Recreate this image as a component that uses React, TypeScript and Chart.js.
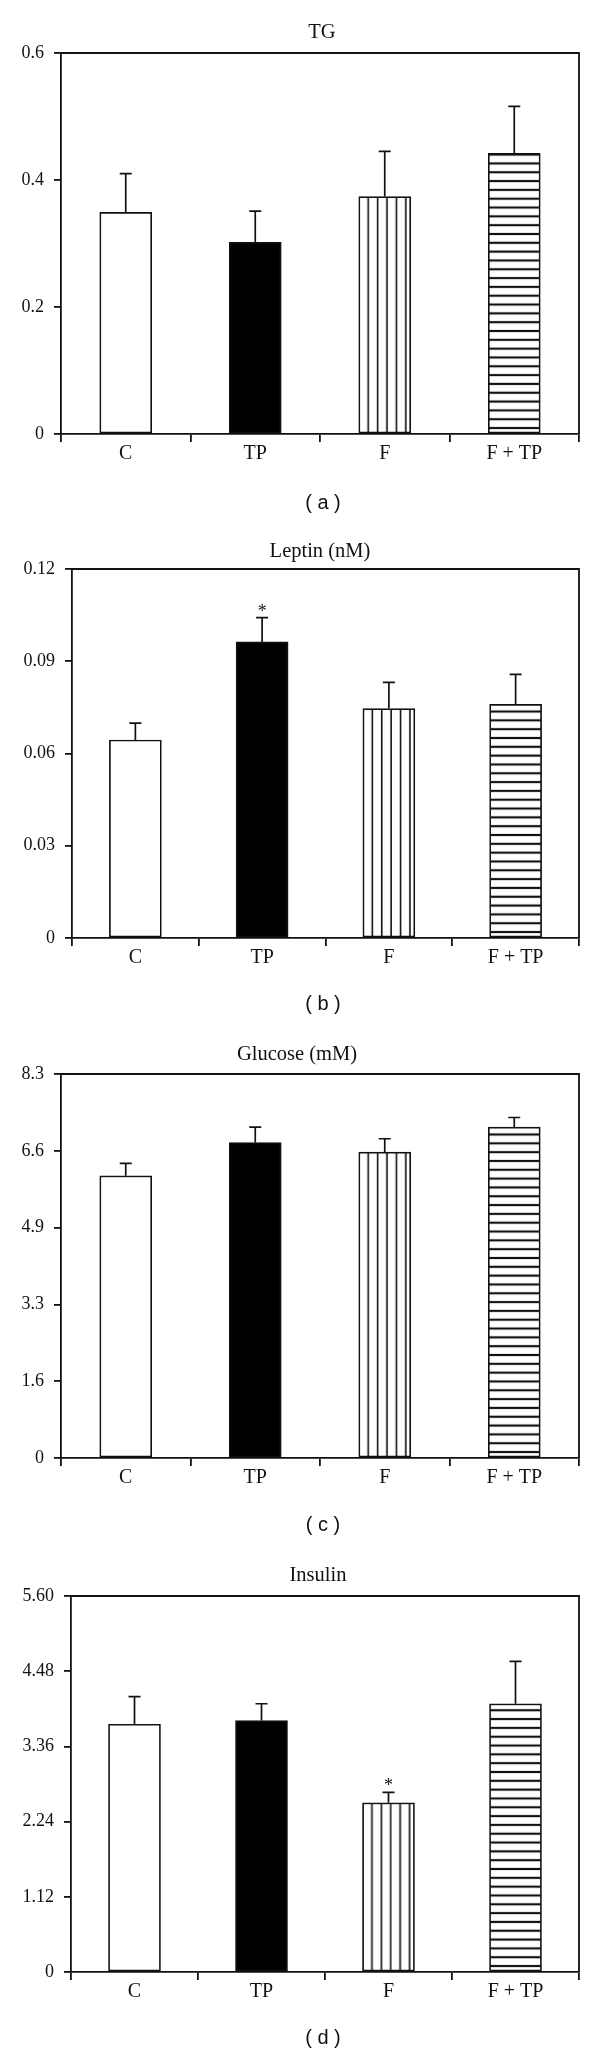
import React, { useEffect, useRef } from "react";
import { Chart, registerables } from "chart.js";

Chart.register(...registerables);

// ---------- data ----------
const categories = ["C", "TP", "F", "F + TP"];

const tgMeans = [0.349, 0.302, 0.374, 0.442];
const tgErrors = [0.061, 0.049, 0.071, 0.074];
const tgTicks = ["0", "0.2", "0.4", "0.6"];
const tgStars = [false, false, false, false];

const leptinMeans = [0.0644, 0.0963, 0.0746, 0.076];
const leptinErrors = [0.0055, 0.0079, 0.0085, 0.0097];
const leptinTicks = ["0", "0.03", "0.06", "0.09", "0.12"];
const leptinStars = [false, true, false, false];

const glucoseMeans = [6.1, 6.82, 6.61, 7.15];
const glucoseErrors = [0.27, 0.33, 0.29, 0.21];
const glucoseTicks = ["0", "1.6", "3.3", "4.9", "6.6", "8.3"];
const glucoseStars = [false, false, false, false];

const insulinMeans = [3.69, 3.745, 2.52, 3.995];
const insulinErrors = [0.41, 0.25, 0.155, 0.63];
const insulinTicks = ["0", "1.12", "2.24", "3.36", "4.48", "5.60"];
const insulinStars = [false, false, true, false];

// ---------- layout ----------
type Panel = {
  title: string;
  label: string;
  means: number[];
  errors: number[];
  ticks: string[];
  stars: boolean[];
  top: number;
  height: number;
  plotTop: number;
  plotLeft: number;
  plotBottom: number;
  titleX: number;
  titleY: number;
  labelY: number;
};

const PANELS: Panel[] = [
  { title: "TG", label: "( a )", means: tgMeans, errors: tgErrors, ticks: tgTicks, stars: tgStars,
    top: 0, height: 528, plotTop: 53, plotLeft: 61, plotBottom: 434, titleX: 322, titleY: 31, labelY: 502 },
  { title: "Leptin (nM)", label: "( b )", means: leptinMeans, errors: leptinErrors, ticks: leptinTicks, stars: leptinStars,
    top: 528, height: 502, plotTop: 41, plotLeft: 72, plotBottom: 410, titleX: 320, titleY: 550, labelY: 1003 },
  { title: "Glucose (mM)", label: "( c )", means: glucoseMeans, errors: glucoseErrors, ticks: glucoseTicks, stars: glucoseStars,
    top: 1030, height: 520, plotTop: 44, plotLeft: 61, plotBottom: 428, titleX: 297, titleY: 1053, labelY: 1524 },
  { title: "Insulin", label: "( d )", means: insulinMeans, errors: insulinErrors, ticks: insulinTicks, stars: insulinStars,
    top: 1550, height: 504, plotTop: 46, plotLeft: 71, plotBottom: 422, titleX: 318, titleY: 1574, labelY: 2037 },
];

const INK = "#111";
const SERIF = "'Liberation Serif', 'Times New Roman', serif";
const SANS = "'Liberation Sans', Arial, sans-serif";

function makeVerticalPattern(ctx: CanvasRenderingContext2D) {
  const c = document.createElement("canvas");
  c.width = 47;
  c.height = 8;
  const g = c.getContext("2d")!;
  g.fillStyle = "#fff";
  g.fillRect(0, 0, 47, 8);
  g.fillStyle = INK;
  [0, 9.4, 18.8, 28.2, 37.6].forEach((x) => g.fillRect(x - 0.8, 0, 1.6, 8));
  g.fillRect(47 - 0.8, 0, 1.6, 8);
  return ctx.createPattern(c, "repeat")!;
}

function makeHorizontalPattern(ctx: CanvasRenderingContext2D) {
  const c = document.createElement("canvas");
  c.width = 8;
  c.height = 9;
  const g = c.getContext("2d")!;
  g.fillStyle = "#fff";
  g.fillRect(0, 0, 8, 9);
  g.fillStyle = INK;
  g.fillRect(0, 0, 8, 1.1);
  g.fillRect(0, 7.9, 8, 1.1);
  return ctx.createPattern(c, "repeat")!;
}

function BarPanel({ p }: { p: Panel }) {
  const ref = useRef<HTMLCanvasElement>(null);

  useEffect(() => {
    const canvas = ref.current!;
    const ctx = canvas.getContext("2d")!;
    const vPat = makeVerticalPattern(ctx);
    const hPat = makeHorizontalPattern(ctx);
    const yMax = Number(p.ticks[p.ticks.length - 1]);

    const patternAlign = {
      id: "patternAlign",
      beforeDatasetsDraw(chart: any) {
        const meta = chart.getDatasetMeta(0);
        const fBar = meta.data[2];
        const left = fBar.x - fBar.width / 2;
        vPat.setTransform(new DOMMatrix([1, 0, 0, 1, left, 0]));
        const base = chart.scales.y.getPixelForValue(0);
        hPat.setTransform(new DOMMatrix([1, 0, 0, 0.98, 0, base - 6]));
      },
    };

    const errorBars = {
      id: "errorBars",
      afterDatasetsDraw(chart: any) {
        const meta = chart.getDatasetMeta(0);
        const y = chart.scales.y;
        const c = chart.ctx;
        c.save();
        c.strokeStyle = INK;
        c.lineWidth = 1.7;
        c.fillStyle = INK;
        c.font = `18px ${SERIF}`;
        c.textAlign = "center";
        c.textBaseline = "alphabetic";
        meta.data.forEach((bar: any, i: number) => {
          const v = p.means[i];
          const e = p.errors[i];
          const yBar = y.getPixelForValue(v);
          const yTop = y.getPixelForValue(v + e);
          const x = bar.x;
          c.beginPath();
          c.moveTo(x, yBar);
          c.lineTo(x, yTop);
          c.moveTo(x - 6, yTop);
          c.lineTo(x + 6, yTop);
          c.stroke();
          if (p.stars[i]) c.fillText("*", x, yTop - 1);
        });
        c.restore();
      },
    };

    const frame = {
      id: "frame",
      afterDraw(chart: any) {
        const { left, right, top, bottom } = chart.chartArea;
        const c = chart.ctx;
        c.save();
        c.strokeStyle = INK;
        c.lineWidth = 1.8;
        c.beginPath();
        c.moveTo(left, top);
        c.lineTo(right, top);
        c.lineTo(right, bottom);
        c.stroke();
        c.restore();
      },
    };

    const chart = new Chart(ctx, {
      type: "bar",
      data: {
        labels: categories,
        datasets: [
          {
            data: p.means,
            backgroundColor: ["#ffffff", "#000000", vPat, hPat],
            borderColor: INK,
            borderWidth: 1.7,
            borderSkipped: false,
            barThickness: 52,
          } as any,
        ],
      },
      options: {
        responsive: false,
        animation: false,
        devicePixelRatio: 1,
        layout: { padding: { top: p.plotTop, left: 0, right: 21, bottom: 0 } },
        plugins: {
          legend: { display: false },
          tooltip: { enabled: false },
          title: { display: false },
        },
        scales: {
          x: {
            grid: {
              display: true,
              drawOnChartArea: false,
              drawTicks: true,
              tickLength: 8,
              color: INK,
              lineWidth: 1.8,
              offset: true,
            },
            border: { display: true, color: INK, width: 1.8 },
            ticks: {
              color: INK,
              font: { family: SERIF, size: 20 },
              padding: 0,
              maxRotation: 0,
              autoSkip: false,
            },
            afterFit: (s: any) => {
              s.height = p.height - p.plotBottom;
            },
          },
          y: {
            min: 0,
            max: yMax,
            grid: {
              display: true,
              drawOnChartArea: false,
              drawTicks: true,
              tickLength: 7,
              color: INK,
              lineWidth: 1.8,
            },
            border: { display: true, color: INK, width: 1.8 },
            ticks: {
              count: p.ticks.length,
              color: INK,
              font: { family: SERIF, size: 18 },
              padding: 10,
              callback: (_v: any, i: number) => p.ticks[i],
            },
            afterFit: (s: any) => {
              s.width = p.plotLeft;
            },
          },
        },
      } as any,
      plugins: [patternAlign, errorBars, frame],
    });
    return () => chart.destroy();
  }, [p]);

  return (
    <canvas
      ref={ref}
      width={600}
      height={p.height}
      style={{ position: "absolute", left: 0, top: p.top, width: 600, height: p.height }}
    />
  );
}

function CenteredText({ text, x, y, font, size }: { text: string; x: number; y: number; font: string; size: number }) {
  const lh = 30;
  return (
    <div
      style={{
        position: "absolute",
        left: x - 150,
        top: y - lh / 2,
        width: 300,
        height: lh,
        lineHeight: `${lh}px`,
        textAlign: "center",
        fontFamily: font,
        fontSize: size,
        color: INK,
        whiteSpace: "pre",
      }}
    >
      {text}
    </div>
  );
}

export default function App() {
  return (
    <div
      style={{
        position: "absolute",
        left: 0,
        top: 0,
        width: 600,
        height: 2054,
        background: "#fff",
        overflow: "hidden",
      }}
    >
      {PANELS.map((p, i) => (
        <BarPanel key={i} p={p} />
      ))}
      {PANELS.map((p, i) => (
        <CenteredText key={"t" + i} text={p.title} x={p.titleX} y={p.titleY} font={SERIF} size={20.5} />
      ))}
      {PANELS.map((p, i) => (
        <CenteredText key={"l" + i} text={p.label} x={323} y={p.labelY} font={SANS} size={20} />
      ))}
    </div>
  );
}
